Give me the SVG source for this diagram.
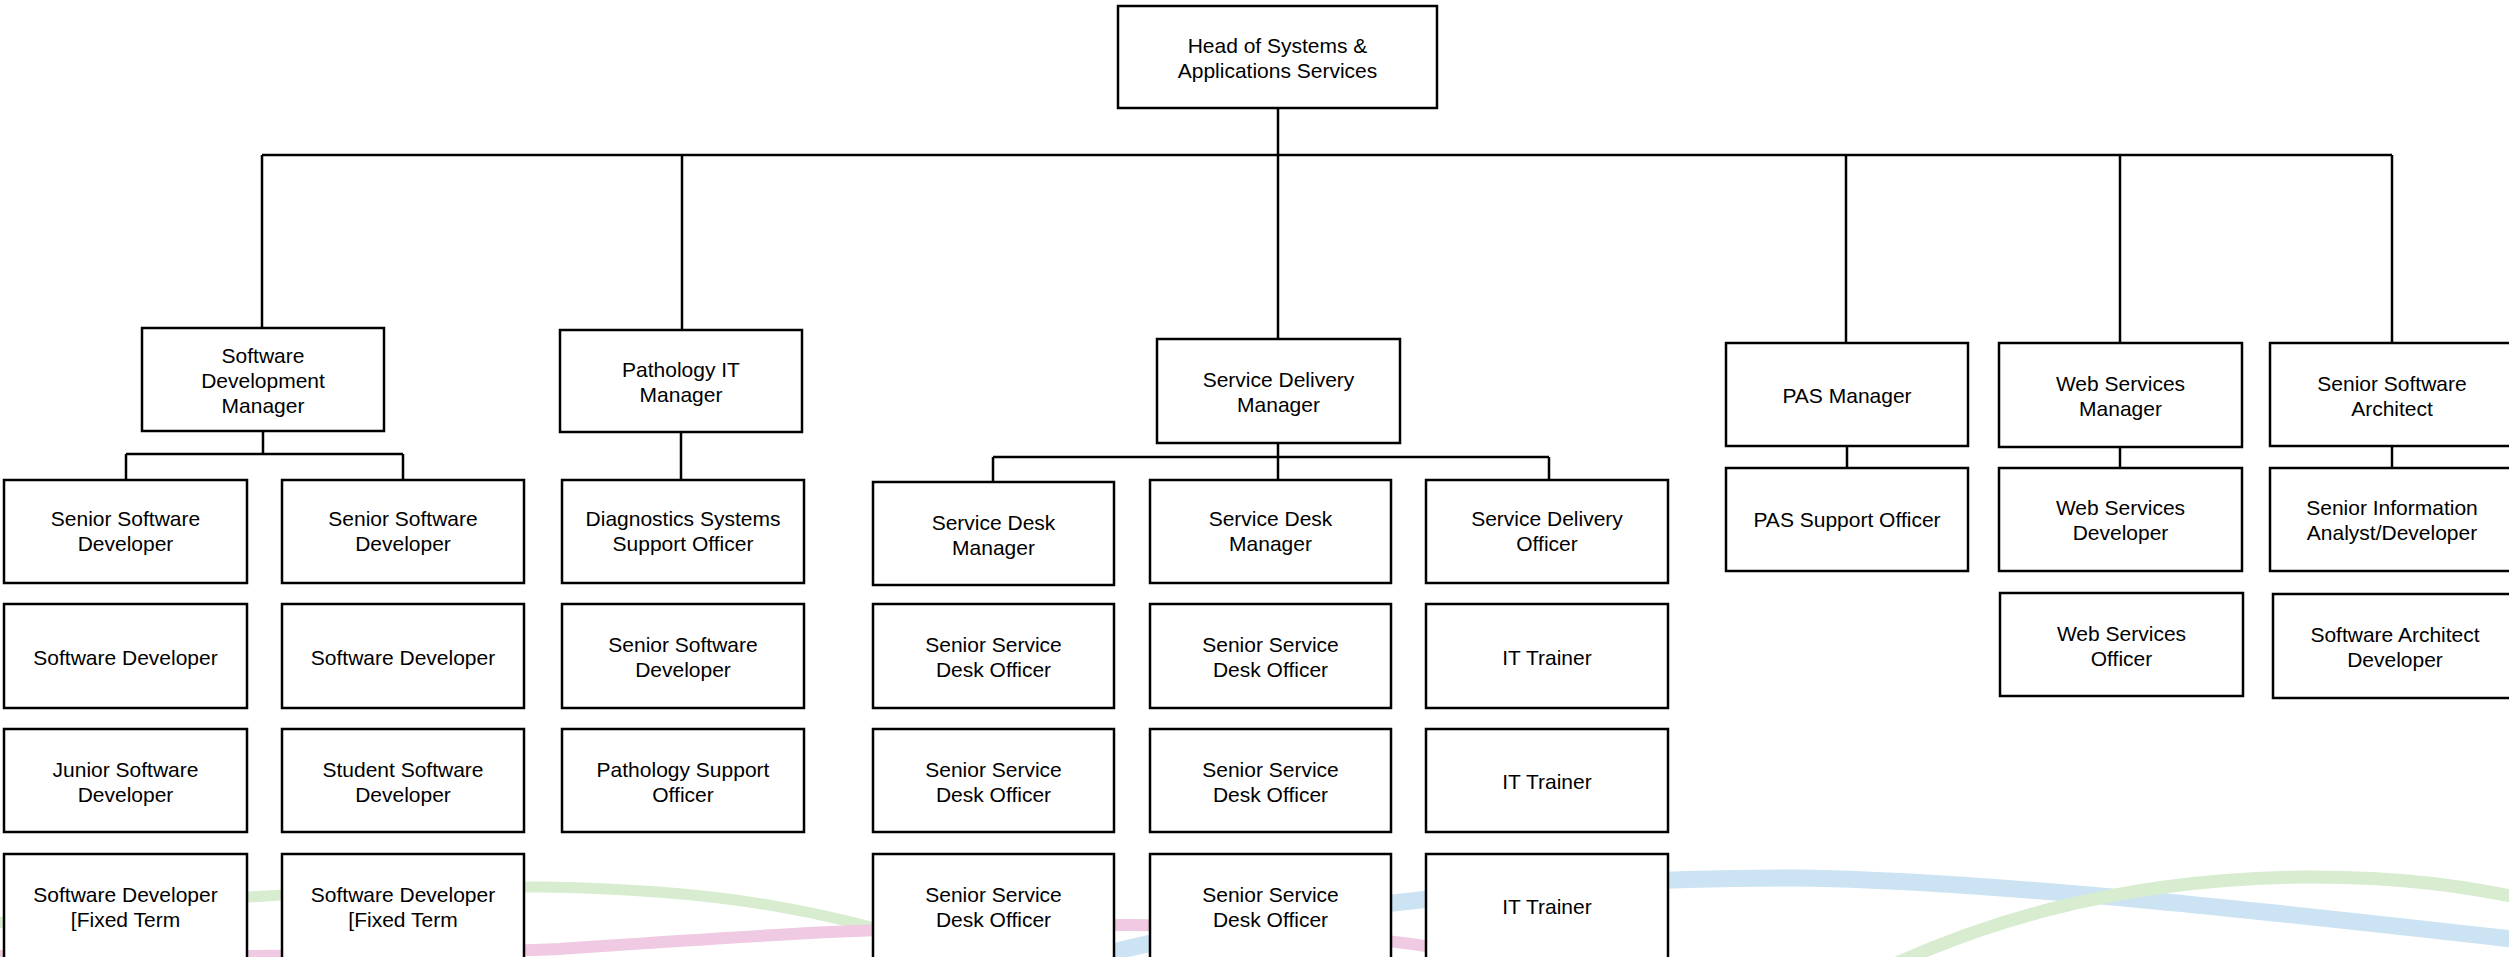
<svg xmlns="http://www.w3.org/2000/svg" width="2509" height="957" viewBox="0 0 2509 957">
<style>
.box{fill:#fff;stroke:#000;stroke-width:2.5}
.ln{fill:none;stroke:#000;stroke-width:2.5}
text{font-family:"Liberation Sans",Arial,sans-serif;font-size:21px;fill:#000;text-anchor:middle}
.rb{fill:none;stroke-linecap:butt}
</style>
<rect width="2509" height="957" fill="#fff"/>
<g id="ribbons">
<path class="rb" d="M -10 924 C 120 905, 330 886, 540 887 C 700 889, 830 905, 1000 968" stroke="#d8ecd0" stroke-width="11"/>
<path class="rb" d="M -10 956 C 200 958, 400 955, 560 949 C 750 936, 900 925, 1130 925 C 1300 926, 1450 944, 1600 978" stroke="#efcae2" stroke-width="12"/>
<path class="rb" d="M 1000 985 C 1100 950, 1250 918, 1420 900 C 1550 885, 1650 878, 1800 878 C 2000 881, 2300 915, 2530 941" stroke="#cbe3f2" stroke-width="17"/>
<path class="rb" d="M 1850 985 C 1970 925, 2110 880, 2300 877 C 2400 876, 2470 887, 2530 900" stroke="#d8ecd0" stroke-width="13"/>
</g>
<g id="connectors">
<path class="ln" d="M1278 108 V155 M262 155 H2392 M262 155 V328 M682 155 V330 M1278 155 V339 M1846 155 V343 M2120 155 V343 M2392 155 V343"/>
<path class="ln" d="M263 431 V454 M126 454 H403 M126 454 V480 M403 454 V480"/>
<path class="ln" d="M681 432 V480"/>
<path class="ln" d="M1278 443 V480 M993 457 H1549 M993 457 V482 M1549 457 V480"/>
<path class="ln" d="M1847 446 V468 M2120 447 V468 M2392 446 V468"/>
</g>
<g id="head"><rect class="box" x="1118" y="6" width="319" height="102"/><text x="1277.5" y="53">Head of Systems &amp;</text><text x="1277.5" y="78">Applications Services</text></g>
<g id="sdm"><rect class="box" x="142" y="328" width="242" height="103"/><text x="263" y="363">Software</text><text x="263" y="388">Development</text><text x="263" y="413">Manager</text></g>
<g id="path-mgr"><rect class="box" x="560" y="330" width="242" height="102"/><text x="681" y="377">Pathology IT</text><text x="681" y="402">Manager</text></g>
<g id="sdel-mgr"><rect class="box" x="1157" y="339" width="243" height="104"/><text x="1278.5" y="387">Service Delivery</text><text x="1278.5" y="412">Manager</text></g>
<g id="pas-mgr"><rect class="box" x="1726" y="343" width="242" height="103"/><text x="1847" y="403">PAS Manager</text></g>
<g id="web-mgr"><rect class="box" x="1999" y="343" width="243" height="104"/><text x="2120.5" y="391">Web Services</text><text x="2120.5" y="416">Manager</text></g>
<g id="sr-arch"><rect class="box" x="2270" y="343" width="244" height="103"/><text x="2392" y="390.5">Senior Software</text><text x="2392" y="415.5">Architect</text></g>

<g id="a1"><rect class="box" x="4" y="480" width="243" height="103"/><text x="125.5" y="526">Senior Software</text><text x="125.5" y="551">Developer</text></g>
<g id="a2"><rect class="box" x="4" y="604" width="243" height="104"/><text x="125.5" y="664.5">Software Developer</text></g>
<g id="a3"><rect class="box" x="4" y="729" width="243" height="103"/><text x="125.5" y="776.5">Junior Software</text><text x="125.5" y="801.5">Developer</text></g>
<g id="a4"><rect class="box" x="4" y="854" width="243" height="106"/><text x="125.5" y="901.5">Software Developer</text><text x="125.5" y="926.5">[Fixed Term</text></g>

<g id="b1"><rect class="box" x="282" y="480" width="242" height="103"/><text x="403" y="526">Senior Software</text><text x="403" y="551">Developer</text></g>
<g id="b2"><rect class="box" x="282" y="604" width="242" height="104"/><text x="403" y="664.5">Software Developer</text></g>
<g id="b3"><rect class="box" x="282" y="729" width="242" height="103"/><text x="403" y="776.5">Student Software</text><text x="403" y="801.5">Developer</text></g>
<g id="b4"><rect class="box" x="282" y="854" width="242" height="106"/><text x="403" y="901.5">Software Developer</text><text x="403" y="926.5">[Fixed Term</text></g>

<g id="c1"><rect class="box" x="562" y="480" width="242" height="103"/><text x="683" y="526">Diagnostics Systems</text><text x="683" y="551">Support Officer</text></g>
<g id="c2"><rect class="box" x="562" y="604" width="242" height="104"/><text x="683" y="652">Senior Software</text><text x="683" y="677">Developer</text></g>
<g id="c3"><rect class="box" x="562" y="729" width="242" height="103"/><text x="683" y="776.5">Pathology Support</text><text x="683" y="801.5">Officer</text></g>

<g id="d1"><rect class="box" x="873" y="482" width="241" height="103"/><text x="993.5" y="529.5">Service Desk</text><text x="993.5" y="554.5">Manager</text></g>
<g id="d2"><rect class="box" x="873" y="604" width="241" height="104"/><text x="993.5" y="652">Senior Service</text><text x="993.5" y="677">Desk Officer</text></g>
<g id="d3"><rect class="box" x="873" y="729" width="241" height="103"/><text x="993.5" y="776.5">Senior Service</text><text x="993.5" y="801.5">Desk Officer</text></g>
<g id="d4"><rect class="box" x="873" y="854" width="241" height="106"/><text x="993.5" y="901.5">Senior Service</text><text x="993.5" y="926.5">Desk Officer</text></g>

<g id="e1"><rect class="box" x="1150" y="480" width="241" height="103"/><text x="1270.5" y="526">Service Desk</text><text x="1270.5" y="551">Manager</text></g>
<g id="e2"><rect class="box" x="1150" y="604" width="241" height="104"/><text x="1270.5" y="652">Senior Service</text><text x="1270.5" y="677">Desk Officer</text></g>
<g id="e3"><rect class="box" x="1150" y="729" width="241" height="103"/><text x="1270.5" y="776.5">Senior Service</text><text x="1270.5" y="801.5">Desk Officer</text></g>
<g id="e4"><rect class="box" x="1150" y="854" width="241" height="106"/><text x="1270.5" y="901.5">Senior Service</text><text x="1270.5" y="926.5">Desk Officer</text></g>

<g id="f1"><rect class="box" x="1426" y="480" width="242" height="103"/><text x="1547" y="526">Service Delivery</text><text x="1547" y="551">Officer</text></g>
<g id="f2"><rect class="box" x="1426" y="604" width="242" height="104"/><text x="1547" y="664.5">IT Trainer</text></g>
<g id="f3"><rect class="box" x="1426" y="729" width="242" height="103"/><text x="1547" y="789">IT Trainer</text></g>
<g id="f4"><rect class="box" x="1426" y="854" width="242" height="106"/><text x="1547" y="914">IT Trainer</text></g>

<g id="pas-so"><rect class="box" x="1726" y="468" width="242" height="103"/><text x="1847" y="527">PAS Support Officer</text></g>
<g id="web-dev"><rect class="box" x="1999" y="468" width="243" height="103"/><text x="2120.5" y="514.5">Web Services</text><text x="2120.5" y="539.5">Developer</text></g>
<g id="web-off"><rect class="box" x="2000" y="593" width="243" height="103"/><text x="2121.5" y="640.5">Web Services</text><text x="2121.5" y="665.5">Officer</text></g>
<g id="sr-info"><rect class="box" x="2270" y="468" width="244" height="103"/><text x="2392" y="514.5">Senior Information</text><text x="2392" y="539.5">Analyst/Developer</text></g>
<g id="sa-dev"><rect class="box" x="2273" y="594" width="244" height="104"/><text x="2395" y="642">Software Architect</text><text x="2395" y="667">Developer</text></g>
</svg>
